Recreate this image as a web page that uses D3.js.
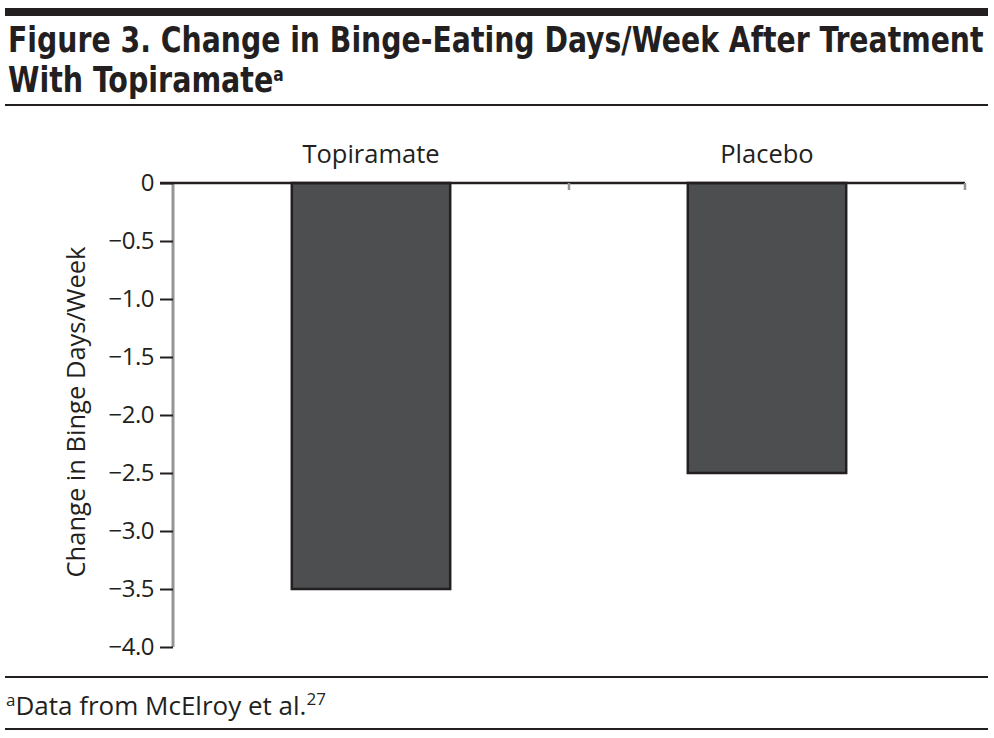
<!DOCTYPE html>
<html><head><meta charset="utf-8">
<script src="https://cdn.jsdelivr.net/npm/d3@7"></script>
<style>body{margin:0;background:#fff}svg{display:block}</style>
</head><body>
<svg id="c" width="994" height="738"></svg>
<script>
const categories = ["Topiramate", "Placebo"];
const values = [-3.5, -2.5];
const yTicks = [0, -0.5, -1.0, -1.5, -2.0, -2.5, -3.0, -3.5, -4.0];

const svg = d3.select("#c");
const titleFont = "'Liberation Sans Narrow','Arial Narrow','DejaVu Sans Condensed',sans-serif";
const bodyFont = "'Open Sans','Noto Sans',sans-serif";

// header rules
svg.append("rect").attr("x",5).attr("y",8).attr("width",983).attr("height",8).attr("fill","#231f20");

function fitText(sel, x0, targetW){
  const w = sel.node().getBBox().width;
  const s = targetW / w;
  sel.attr("x",0).attr("transform",`translate(${x0},0) scale(${s},1)`);
}
const t1 = svg.append("text").attr("y",52).attr("font-family",titleFont).attr("font-weight","bold")
  .attr("font-size",35).attr("fill","#231f20")
  .text("Figure 3. Change in Binge-Eating Days/Week After Treatment");
fitText(t1, 8, 976);
const t2 = svg.append("text").attr("y",92).attr("font-family",titleFont).attr("font-weight","bold")
  .attr("font-size",35).attr("fill","#231f20");
t2.append("tspan").text("With Topiramate");
t2.append("tspan").attr("font-size",19).attr("dy",-11).text("a");
fitText(t2, 8, 276);
svg.append("rect").attr("x",5).attr("y",104).attr("width",983).attr("height",2).attr("fill","#231f20");

// chart
const x = d3.scaleBand().domain(categories).range([173,965]).paddingInner(0.6).paddingOuter(0.3);
const y = d3.scaleLinear().domain([-4,0]).range([647,183]);

svg.selectAll("rect.bar").data(values).join("rect").attr("class","bar")
  .attr("x",(d,i)=>x(categories[i])).attr("width",x.bandwidth())
  .attr("y",y(0)).attr("height",d=>y(d)-y(0))
  .attr("fill","#4d4e50").attr("stroke","#231f20").attr("stroke-width",2.5);

// y axis
const yAxis = d3.axisLeft(y).tickValues(yTicks).tickSize(13).tickPadding(6)
  .tickFormat(d=> d===0 ? "0" : d3.format(".1f")(d).replace("-","\u2212"));
const gy = svg.append("g").attr("transform","translate(173,0)").call(yAxis);
gy.select(".domain").attr("stroke","#939598").attr("stroke-width",3).attr("d","M0,183V647H0");
gy.selectAll(".tick line").attr("stroke","#231f20").attr("stroke-width",2);
gy.selectAll(".tick text").attr("font-family",bodyFont).attr("font-size",24).attr("fill","#231f20")
  .attr("letter-spacing",-0.5);

// zero line
svg.append("line").attr("x1",160).attr("x2",965).attr("y1",y(0)).attr("y2",y(0))
  .attr("stroke","#231f20").attr("stroke-width",2.5);
// category boundary ticks
[x.step(), x.step()*2].forEach(o=>{
  svg.append("line").attr("x1",173+o).attr("x2",173+o).attr("y1",y(0)).attr("y2",y(0)+7)
    .attr("stroke","#939598").attr("stroke-width",2.5);
});

// category labels
svg.selectAll("text.cat").data(categories).join("text").attr("class","cat")
  .attr("x",d=>x(d)+x.bandwidth()/2).attr("y",163).attr("text-anchor","middle")
  .attr("font-family",bodyFont).attr("font-size",25.5).attr("fill","#231f20").text(d=>d);

// y label
svg.append("text").attr("transform","translate(85,412) rotate(-90)").attr("text-anchor","middle")
  .attr("font-family",bodyFont).attr("font-size",25.5).attr("fill","#231f20").text("Change in Binge Days/Week");

// footer
svg.append("rect").attr("x",5).attr("y",676).attr("width",983).attr("height",2).attr("fill","#231f20");
const ft = svg.append("text").attr("x",6).attr("y",715).attr("font-family",bodyFont).attr("font-size",26).attr("fill","#231f20");
ft.append("tspan").attr("font-size",17).attr("dy",-9).text("a");
ft.append("tspan").attr("dy",9).text("Data from McElroy et al.");
ft.append("tspan").attr("font-size",17).attr("dy",-10).text("27");
svg.append("rect").attr("x",5).attr("y",728).attr("width",983).attr("height",2).attr("fill","#231f20");
</script>
</body></html>
